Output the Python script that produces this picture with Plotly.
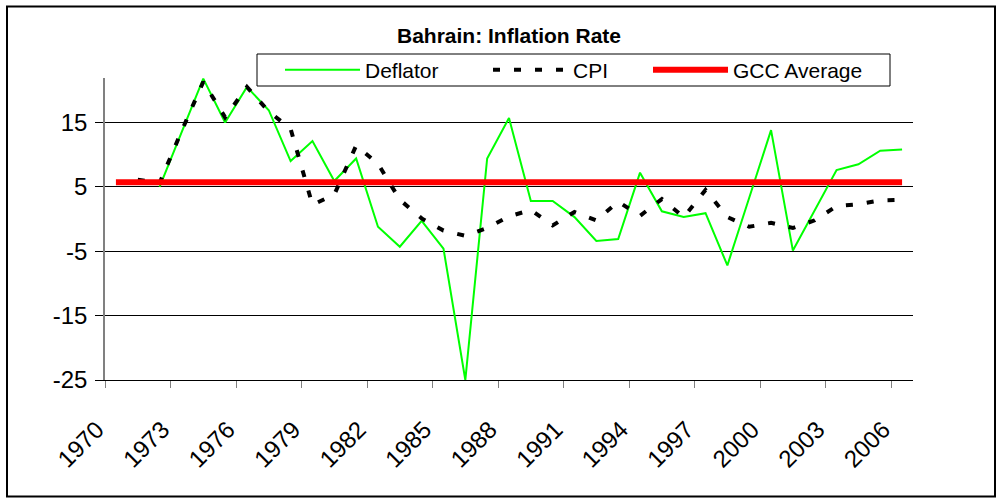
import plotly.graph_objects as go

# ---------------- data ----------------
years = list(range(1970, 2007))

deflator = [None, None, 5.0, 13.5, 21.8, 15.0, 20.5, 16.9, 9.0, 12.1,
            5.9, 9.4, -1.2, -4.3, -0.3, -4.6, -25.0, 9.4, 15.7, 2.8,
            2.8, 0.3, -3.4, -3.1, 7.2, 1.2, 0.3, 0.9, -7.2, 3.3,
            13.8, -4.9, 1.3, 7.6, 8.5, 10.6, 10.8]

cpi = [None, 6.1, 5.6, 13.6, 21.3, 15.8, 20.5, 16.7, 14.0, 2.2,
       3.8, 11.4, 8.6, 3.0, 0.1, -1.8, -2.6, -1.4, 0.4, 1.4,
       -1.0, 1.1, -0.2, 2.7, 0.5, 3.1, 0.3, 4.5, 0.3, -1.2,
       -0.6, -1.4, -0.2, 2.0, 2.3, 2.9, 3.0]

gcc_average = [5.7, 5.7, 5.7, 5.7, 5.7, 5.7, 5.7, 5.7, 5.7, 5.7,
               5.7, 5.7, 5.7, 5.7, 5.7, 5.7, 5.7, 5.7, 5.7, 5.7,
               5.7, 5.7, 5.7, 5.7, 5.7, 5.7, 5.7, 5.7, 5.7, 5.7,
               5.7, 5.7, 5.7, 5.7, 5.7, 5.7, 5.7]

tick_years = ["1970", "1973", "1976", "1979", "1982", "1985", "1988",
              "1991", "1994", "1997", "2000", "2003", "2006"]
y_ticks = [-25, -15, -5, 5, 15]
y_tick_text = ["-25", "-15", "-5", "5", "15"]

title_text = "Bahrain: Inflation Rate"
names = ["Deflator", "CPI", "GCC Average"]

# ---------------- layout helpers ----------------
W, H = 1000, 498
L, R, T, B = 105, 913, 78, 380
FONT = "Liberation Sans, Arial, sans-serif"


def px_x(px):
    return (px - L) / (R - L)


def px_y(py):
    return (B - py) / (B - T)


fig = go.Figure()

fig.add_trace(go.Scatter(
    x=years, y=deflator, name=names[0], mode="lines",
    line=dict(color="#00ff00", width=2), legend="legend", showlegend=True,
))
fig.add_trace(go.Scatter(
    x=years, y=cpi, name=names[1], mode="lines",
    line=dict(color="#000000", width=4, dash="7px,14px"), legend="legend2",
    showlegend=True,
))
fig.add_trace(go.Scatter(
    x=years, y=gcc_average, name=names[2], mode="lines",
    line=dict(color="#ff0000", width=6), legend="legend3", showlegend=True,
))

leg_common = dict(
    orientation="h", xanchor="left", yanchor="middle",
    itemwidth=75, bgcolor="rgba(0,0,0,0)", borderwidth=0,
    font=dict(family=FONT, size=21, color="#000000"),
)

fig.update_layout(
    width=W, height=H,
    showlegend=True,
    hovermode=False,
    margin=dict(l=L, r=W - R, t=T, b=H - B, pad=0),
    paper_bgcolor="white", plot_bgcolor="white",
    font=dict(family=FONT, color="#000000"),
    title=dict(
        text="<b>" + title_text + "</b>",
        x=0.5, xref="paper", xanchor="center",
        y=1 - 36 / H, yref="container", yanchor="middle",
        font=dict(family=FONT, size=21, color="#000000"),
    ),
    legend=dict(x=px_x(280), y=px_y(70), **leg_common),
    legend2=dict(x=px_x(488), y=px_y(70), **leg_common),
    legend3=dict(x=px_x(648), y=px_y(70), **leg_common),
    xaxis=dict(
        range=[1969.5, 2006.5],
        tickvals=[int(t) - 0.5 for t in tick_years],
        ticktext=tick_years,
        tickangle=-45,
        ticks="outside", ticklen=7, tickcolor="#808080", tickwidth=1,
        ticklabelstandoff=18, ticklabelshift=-8,
        showgrid=False, zeroline=False,
        showline=True, linecolor="#000000", linewidth=1,
        tickfont=dict(family=FONT, size=24, color="#000000"),
    ),
    yaxis=dict(
        range=[-25, 21.9],
        tickvals=y_ticks, ticktext=y_tick_text,
        ticks="outside", ticklen=8, tickcolor="#000000", tickwidth=1,
        ticklabelstandoff=3,
        showgrid=True, gridcolor="#000000", gridwidth=1,
        zeroline=False,
        showline=True, linecolor="#808080", linewidth=1.5,
        tickfont=dict(family=FONT, size=24, color="#000000"),
    ),
    shapes=[
        # legend frame
        dict(type="rect", xref="paper", yref="paper",
             x0=px_x(257), x1=px_x(890), y0=px_y(86), y1=px_y(54),
             line=dict(color="#000000", width=1), fillcolor="rgba(0,0,0,0)",
             layer="above"),
        # outer chart frame
        dict(type="rect", xref="paper", yref="paper",
             x0=px_x(7), x1=px_x(995), y0=px_y(496.5), y1=px_y(6.5),
             line=dict(color="#000000", width=2), fillcolor="rgba(0,0,0,0)",
             layer="above"),
    ],
)

fig.write_html(
    "out.html",
    config={"displayModeBar": False, "staticPlot": False},
    post_script="document.body.style.margin='0';",
)
